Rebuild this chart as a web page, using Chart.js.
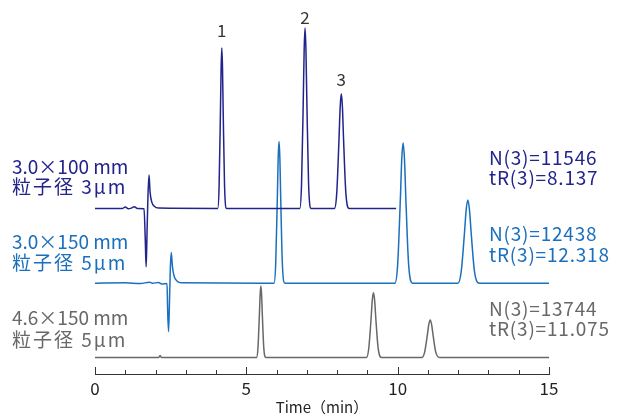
<!DOCTYPE html>
<html>
<head>
<meta charset="utf-8">
<script src="https://cdn.jsdelivr.net/npm/chart.js@4"></script>
<style>
  html, body { margin: 0; padding: 0; background: #fff; }
  #chart { display: block; }
</style>
</head>
<body>
<canvas id="chart" width="622" height="419"></canvas>
<script>
// Column 1: 3.0 x 100 mm, 3 um
const col1Time = [0, 0.9, 1.0, 1.1, 1.2, 1.3, 1.4, 1.62, 1.66, 1.69, 1.72, 1.75, 1.785, 1.82, 1.88, 1.95, 2.1,
    4.055, 4.10, 4.145, 4.168, 4.19, 4.212, 4.235, 4.28, 4.348,
    6.766, 6.824, 6.882, 6.911, 6.94, 6.969, 6.998, 7.056, 7.143,
    7.912, 7.987, 8.062, 8.10, 8.137, 8.175, 8.212, 8.287, 8.40, 9.95];
const col1Signal = [46.5, 46.5, 46.9, 46.4, 46.6, 47.0, 46.5, 46.4, 38.0, 30.1, 40.0, 50.0, 55.9, 51.0, 48.2, 47.2, 46.6,
    46.5, 52.6, 73.9, 86.3, 91.6, 86.3, 73.9, 53.0, 46.5,
    46.5, 53.3, 77.3, 91.2, 97.2, 91.2, 77.3, 53.6, 46.5,
    46.5, 50.8, 66.0, 74.9, 78.7, 74.9, 66.0, 51.0, 46.5, 46.5];

// Column 2: 3.0 x 150 mm, 5 um
const col2Time = [0, 1.0, 1.5, 1.8, 1.9, 2.1, 2.2, 2.38, 2.40, 2.43, 2.46, 2.49, 2.52, 2.56, 2.62, 2.70, 2.85,
    5.915, 5.97, 6.025, 6.052, 6.08, 6.108, 6.135, 6.19, 6.273,
    9.91, 10.0, 10.09, 10.135, 10.18, 10.225, 10.27, 10.36, 10.495,
    11.988, 12.098, 12.208, 12.263, 12.318, 12.373, 12.428, 12.538, 12.703, 15];
const col2Signal = [25.5, 25.6, 25.4, 25.8, 25.5, 25.7, 25.3, 25.4, 18.0, 11.9, 20.0, 30.0, 34.1, 30.0, 27.3, 26.2, 25.6,
    25.5, 30.9, 49.7, 60.6, 65.3, 60.6, 49.7, 31.1, 25.5,
    25.5, 30.8, 49.4, 60.3, 64.9, 60.3, 49.4, 31.0, 25.5,
    25.5, 28.7, 39.7, 46.1, 48.9, 46.1, 39.7, 28.8, 25.5, 25.5];

// Column 3: 4.6 x 150 mm, 5 um
const col3Time = [0, 2.1, 2.15, 2.2,
    5.336, 5.384, 5.432, 5.456, 5.48, 5.504, 5.528, 5.576, 5.648,
    8.966, 9.044, 9.122, 9.161, 9.20, 9.239, 9.278, 9.356, 9.473,
    10.793, 10.887, 10.981, 11.028, 11.075, 11.122, 11.169, 11.263, 11.404, 15];
const col3Signal = [4.6, 4.6, 5.2, 4.6,
    4.6, 7.3, 16.8, 22.3, 24.7, 22.3, 16.8, 7.4, 4.6,
    4.6, 7.1, 15.6, 20.7, 22.8, 20.7, 15.6, 7.2, 4.6,
    4.6, 6.0, 11.0, 13.9, 15.2, 13.9, 11.0, 6.0, 4.6, 4.6];

const peakNames = ['1', '2', '3'];
const peakTimes = [4.19, 6.94, 8.137];
const peakLabelValues = [96.6, 100, 82.6];

const columnNames = ['3.0×100 mm', '3.0×150 mm', '4.6×150 mm'];
const particleNames = ['粒子径 3μm', '粒子径 5μm', '粒子径 5μm'];
const plateCounts = ['N(3)=11546', 'N(3)=12438', 'N(3)=13744'];
const retentionTimes = ['tR(3)=8.137', 'tR(3)=12.318', 'tR(3)=11.075'];
const majorTicks = [0, 5, 10, 15];

const colors = ['#22248c', '#1b70be', '#686868'];

function toPoints(times, values) {
    return times.map((t, i) => ({ x: t, y: values[i] }));
}

const cjkFamily = '"Noto Sans CJK JP", "Noto Sans", sans-serif';

// inward tick marks along the time axis
const tickMarks = {
    id: 'tickMarks',
    afterDraw(c) {
        const x = c.scales.x;
        const ctx = c.ctx;
        const yAxis = c.chartArea.bottom;
        ctx.save();
        ctx.strokeStyle = '#333';
        ctx.lineWidth = 1;
        for (let m = 0; m <= 15; m++) {
            const px = Math.round(x.getPixelForValue(m)) + 0.5;
            const len = majorTicks.includes(m) ? 7 : 4;
            ctx.beginPath();
            ctx.moveTo(px, yAxis);
            ctx.lineTo(px, yAxis - len);
            ctx.stroke();
        }
        ctx.restore();
    }
};

// peak numbers and column captions
const captions = {
    id: 'captions',
    afterDraw(c) {
        const ctx = c.ctx;
        const x = c.scales.x;
        const y = c.scales.y;
        ctx.save();
        ctx.textBaseline = 'middle';
        ctx.textAlign = 'center';
        ctx.fillStyle = '#333';
        ctx.font = '17px ' + cjkFamily;
        peakNames.forEach((n, i) => {
            ctx.fillText(n, x.getPixelForValue(peakTimes[i]), y.getPixelForValue(peakLabelValues[i]));
        });

        ctx.textAlign = 'left';
        ctx.font = '19px ' + cjkFamily;
        const leftRows = [[166.5, 187], [241.5, 263], [317.5, 339.5]];
        const rightRows = [[158, 178], [234, 255], [309, 329]];
        for (let i = 0; i < 3; i++) {
            ctx.fillStyle = colors[i];
            ctx.letterSpacing = '0px';
            ctx.fillText(columnNames[i], 12, leftRows[i][0]);
            ctx.letterSpacing = '2px';
            ctx.fillText(particleNames[i], 12, leftRows[i][1]);
            ctx.letterSpacing = '0.8px';
            ctx.fillText(plateCounts[i], 489, rightRows[i][0]);
            ctx.fillText(retentionTimes[i], 489, rightRows[i][1]);
        }
        ctx.restore();
    }
};

const series = [
    toPoints(col1Time, col1Signal),
    toPoints(col2Time, col2Signal),
    toPoints(col3Time, col3Signal)
];

const ctx = document.getElementById('chart').getContext('2d');
const chart = new Chart(ctx, {
    type: 'line',
    data: {
        datasets: series.map((pts, i) => ({
            label: columnNames[i],
            data: pts,
            borderColor: colors[i],
            borderWidth: 1.5,
            pointRadius: 0,
            cubicInterpolationMode: 'monotone',
            fill: false
        }))
    },
    options: {
        responsive: false,
        animation: false,
        devicePixelRatio: 1,
        layout: { padding: { left: 95, right: 73, top: 18, bottom: 0 } },
        plugins: {
            legend: { display: false },
            tooltip: { enabled: false }
        },
        scales: {
            x: {
                type: 'linear',
                min: 0,
                max: 15,
                border: { display: true, color: '#333', width: 1 },
                grid: { display: false, drawTicks: false },
                afterBuildTicks: (axis) => {
                    axis.ticks = majorTicks.map(v => ({ value: v }));
                },
                afterFit: (axis) => {
                    axis.height = 45;
                },
                ticks: {
                    padding: 4,
                    color: '#222',
                    font: { size: 17, family: cjkFamily }
                },
                title: {
                    display: true,
                    text: 'Time（min）',
                    color: '#222',
                    padding: { top: 0, bottom: 3 },
                    font: { size: 15, family: cjkFamily }
                }
            },
            y: {
                display: false,
                min: 0,
                max: 100
            }
        }
    },
    plugins: [tickMarks, captions]
});
</script>
</body>
</html>
